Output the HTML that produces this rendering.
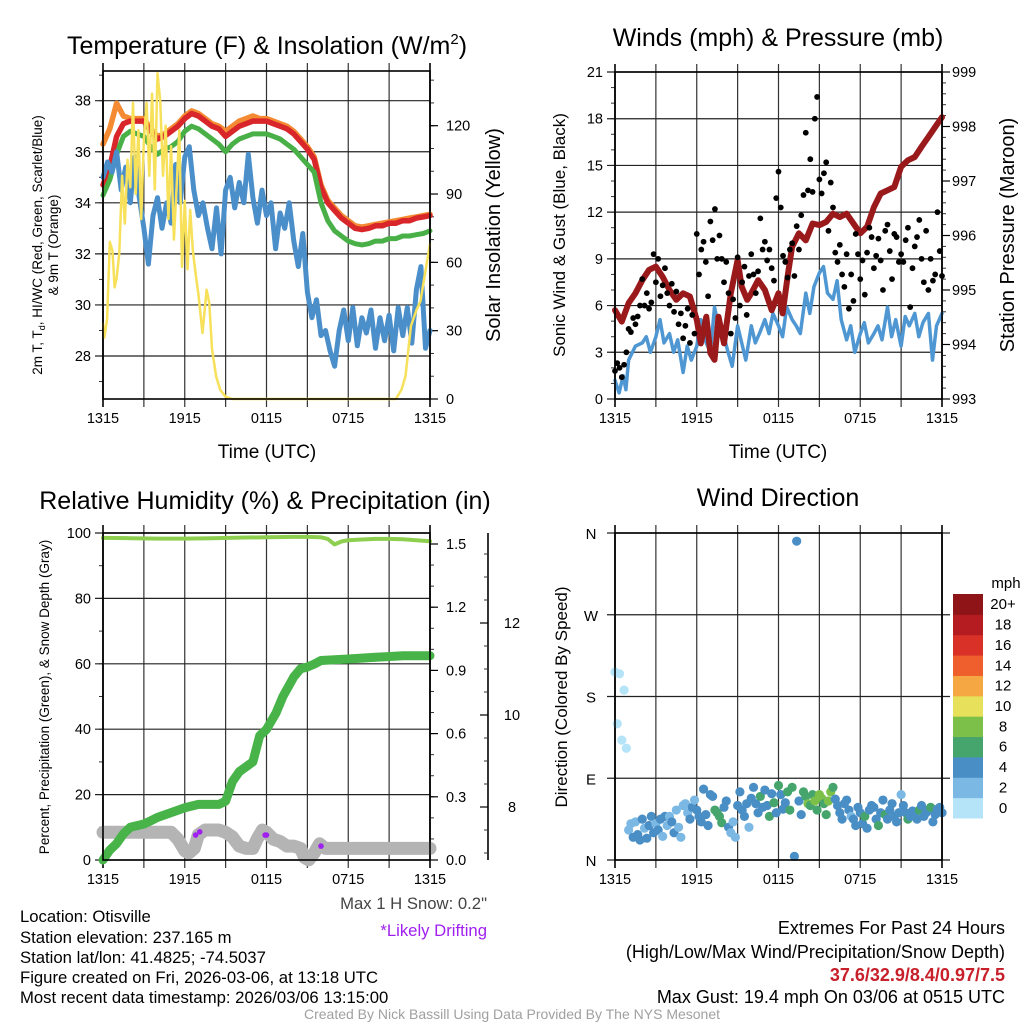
<!DOCTYPE html>
<html><head><meta charset="utf-8"><style>
html,body{margin:0;padding:0;background:#fff;}
svg{display:block;font-family:"Liberation Sans",sans-serif;}
</style></head><body>
<svg id="chart" width="1024" height="1024" viewBox="0 0 1024 1024">
<rect x="0" y="0" width="1024" height="1024" fill="#fff"/>
<text x="267" y="54" font-size="25" text-anchor="middle">Temperature (F) &amp; Insolation (W/m<tspan font-size="15" dy="-10">2</tspan><tspan dy="10">)</tspan></text>
<text x="778" y="46" font-size="25" text-anchor="middle">Winds (mph) &amp; Pressure (mb)</text>
<text x="265" y="509" font-size="25" text-anchor="middle">Relative Humidity (%) &amp; Precipitation (in)</text>
<text x="778" y="506" font-size="25" text-anchor="middle">Wind Direction</text>

<text transform="translate(42,245) rotate(-90)" font-size="13.5" text-anchor="middle">2m T, T<tspan font-size="9" dy="3">d</tspan><tspan dy="-3">, HI/WC (Red, Green, Scarlet/Blue)</tspan></text>
<text transform="translate(58,245) rotate(-90)" font-size="13.5" text-anchor="middle">&amp; 9m T (Orange)</text>
<text transform="translate(500,235) rotate(-90)" font-size="20" text-anchor="middle">Solar Insolation (Yellow)</text>
<text transform="translate(565,235) rotate(-90)" font-size="17" text-anchor="middle">Sonic Wind &amp; Gust (Blue, Black)</text>
<text transform="translate(1014,235) rotate(-90)" font-size="20" text-anchor="middle">Station Pressure (Maroon)</text>
<text transform="translate(49,697) rotate(-90)" font-size="13.5" text-anchor="middle">Percent, Precipitation (Green), &amp; Snow Depth (Gray)</text>
<text transform="translate(567,697) rotate(-90)" font-size="17" text-anchor="middle">Direction (Colored By Speed)</text>
<text x="267" y="458" font-size="19" text-anchor="middle">Time (UTC)</text>
<text x="778" y="458" font-size="19" text-anchor="middle">Time (UTC)</text>

<g font-family="'Liberation Sans',sans-serif" font-size="16.7">
<text x="20" y="922">Location: Otisville</text>
<text x="20" y="943">Station elevation: 237.165 m</text>
<text x="20" y="963">Station lat/lon: 41.4825; -74.5037</text>
<text x="20" y="983">Figure created on Fri, 2026-03-06, at 13:18 UTC</text>
<text x="20" y="1003">Most recent data timestamp: 2026/03/06 13:15:00</text>
<text x="487" y="909" text-anchor="end" fill="#444">Max 1 H Snow: 0.2"</text>
<text x="487" y="936" text-anchor="end" fill="#a020f0">*Likely Drifting</text>
<g font-size="18">
<text x="1005" y="934" text-anchor="end">Extremes For Past 24 Hours</text>
<text x="1005" y="958" text-anchor="end">(High/Low/Max Wind/Precipitation/Snow Depth)</text>
<text x="1005" y="981" text-anchor="end" fill="#c8202a" font-weight="bold">37.6/32.9/8.4/0.97/7.5</text>
<text x="1005" y="1003" text-anchor="end">Max Gust: 19.4 mph On 03/06 at 0515 UTC</text>
</g>
<text x="512" y="1019" text-anchor="middle" fill="#a0a0a0" font-size="14">Created By Nick Bassill Using Data Provided By The NYS Mesonet</text>
</g>
</svg>
<script>
// ---------- DATA ----------
const xTickLabels = ["1315","1915","0115","0715","1315"];
const tempRed = [34.7,35.4,36.6,37.1,37.2,37.2,37.2,36.8,36.5,36.6, 36.8,37.0,37.3,37.5,37.4,37.2,37.0,36.9,36.6,36.8, 37.0,37.1,37.2,37.2,37.2,37.1,37.0,36.9,36.7,36.4, 36.1,35.7,34.6,34.0,33.7,33.4,33.2,33.0,32.95,33.0, 33.1,33.1,33.2,33.2,33.3,33.3,33.4,33.45,33.5];
const temp9m = [36.3,36.9,37.9,37.4,37.3,37.3,37.3,36.9,36.6,36.7, 36.9,37.1,37.4,37.6,37.5,37.3,37.1,37.0,36.8,37.0, 37.2,37.3,37.4,37.3,37.3,37.2,37.1,37.0,36.8,36.5, 36.2,35.8,34.7,34.1,33.8,33.5,33.3,33.1,33.05,33.1, 33.15,33.2,33.25,33.3,33.35,33.4,33.45,33.5,33.55];
const tempHI = [34.3,34.9,35.9,36.6,36.8,36.7,36.6,36.2,35.9,36.1, 36.2,36.4,36.8,37.0,36.9,36.7,36.5,36.3,36.0,36.3, 36.5,36.6,36.7,36.7,36.7,36.6,36.5,36.3,36.1,35.8, 35.5,35.2,34.0,33.3,32.9,32.7,32.5,32.4,32.35,32.4, 32.5,32.5,32.6,32.6,32.7,32.7,32.75,32.8,32.9];
const dewpoint = [35.0,35.6,35.2,36.0,34.5,35.4,34.0,35.8,34.2,33.0,31.6,33.5,34.2,33.0,34.0,33.2,35.5,34.0,35.8,36.2,34.5,33.5,34.0,33.0,32.2,33.8,32.0,34.5,35.0,33.8,34.8,34.0,35.9,34.2,33.2,34.5,33.5,34.0,32.2,33.6,33.0,34.0,32.5,31.5,32.8,30.5,29.5,30.2,28.8,29.0,28.2,27.6,29.0,29.8,28.6,29.9,28.4,29.5,28.9,29.8,28.3,29.5,28.6,29.6,28.2,29.9,28.8,29.9,28.5,30.6,31.5,28.3,29.0];
const solarTimes = [0,0.1,0.3,0.5,0.7,0.85,1,1.2,1.4,1.6,1.8,2,2.2,2.4,2.6,2.8,3,3.2,3.4,3.6,3.8,4,4.2,4.4,4.6,4.8,5,5.2,5.4,5.6,5.8,6,6.2,6.4,6.6,6.8,7,7.3,7.6,7.8,8,8.3,8.6,9,9.5,21.5,21.9,22.2,22.6,23,23.3,23.6,24];
const solarValues = [33,27,35,69,65,49,53,64,98,77,105,93,130,90,118,79,114,130,98,134,92,143,131,98,120,79,111,70,93,118,58,87,57,83,65,55,46,29,48,42,22,10,4,1,0,0,4,10,32,39,43,54,68];
const pressTimes = [0,0.5,1,1.5,2,2.5,3,3.5,4,4.5,5,5.5,6,6.3,6.7,7,7.3,7.6,8,8.5,9,9.3,9.7,10,10.5,11,11.5,12,12.3,12.7,13,13.5,14,14.5,15,15.5,16,16.5,17,17.5,18,18.5,19,19.5,20,20.5,21,21.5,22,22.5,23,23.5,24];
const pressValues = [994.63,994.42,994.76,994.94,995.18,995.37,995.43,995.24,995.0,994.82,994.94,994.88,994.45,994.02,994.51,993.84,993.72,994.51,994.02,994.94,995.55,995.06,994.82,994.94,995.18,995.0,994.63,994.94,994.57,995.3,995.79,996.04,995.91,996.22,996.19,996.25,996.4,996.34,996.4,996.22,996.04,996.16,996.52,996.77,996.83,996.89,997.26,997.38,997.44,997.63,997.81,997.99,998.17];
const windTimes = [0,0.3,0.6,0.8,1,1.5,2,2.3,2.6,3,3.3,3.6,4,4.3,4.6,5,5.3,5.6,6,6.3,6.6,7,7.3,7.6,8,8.3,8.6,9,9.3,9.6,10,10.3,10.6,11,11.3,11.6,12,12.3,12.6,13,13.3,13.6,14,14.3,14.6,15,15.3,15.6,16,16.3,16.6,17,17.3,17.6,18,18.3,18.6,19,19.3,19.6,20,20.3,20.6,21,21.3,21.6,22,22.3,22.6,23,23.3,23.6,24];
const windValues = [1.2,0.4,1.5,0.6,2.5,3.4,3.6,4.0,3.0,4.0,5.1,3.6,4.2,3.0,3.8,1.7,3.4,2.5,3.4,5.1,3.8,3.0,5.9,4.7,4.0,3.0,2.1,4.7,3.6,2.5,4.7,3.6,4.2,5.1,4.2,5.5,4.7,4.0,5.9,5.1,4.7,4.2,6.8,5.5,7.2,8.1,8.5,6.8,6.4,7.6,5.1,3.8,4.7,3.0,4.2,4.9,3.6,4.2,4.7,3.8,5.9,4.0,5.1,3.4,5.3,4.7,5.5,4.0,4.9,5.5,2.5,4.7,5.5];
const gustValues = [1.8,2.3,2.0,1.4,2.2,3.0, 4.5,4.3,5.2,4.8,5.3,6.0, 7.7,6.0,6.8,5.8,6.2,9.3, 7.5,9.0,6.6,7.3,8.4,6.8, 6.0,7.4,5.6,6.9,4.8,5.5, 3.9,4.7,5.8,3.6,5.4,4.2, 10.6,8.0,9.6,10.1,8.8,6.6, 11.4,10.2,12.2,9.0,10.5,9.0, 7.5,8.8,6.8,4.2,6.4,5.2, 9.1,6.0,7.5,8.5,5.4,7.9, 9.3,8.0,6.8,8.2,11.6,9.6, 10.1,8.9,9.6,8.4,7.6,12.9, 14.6,12.3,9.2,8.8,7.8,9.6, 10.0,7.9,11.1,9.6,11.8,13.1, 17.1,13.4,15.4,13.3,18.0,19.4, 14.1,13.2,14.5,15.2,10.8,13.9, 12.3,9.4,8.8,9.9,8.0,7.2, 9.3,5.8,8.0,6.3,10.6,9.3, 7.7,8.9,6.7,9.4,11.0,10.4, 8.4,9.2,10.3,8.9,7.0,10.8, 11.2,9.5,7.7,10.6,10.4,8.8, 9.3,8.8,10.2,11.0,5.9,8.4, 9.8,10.4,11.5,9.0,7.5,10.8, 7.0,9.0,7.6,8.0,12.0,9.5, 7.9];
const rhTimes = [0,2,4,6,8,10,12,14,15,16,16.5,17,17.5,18,19,20,21,22,23,24];
const rhValues = [98.5,98.4,98.3,98.3,98.4,98.6,98.7,98.8,98.8,98.7,98.2,96.5,97.4,97.8,98.0,98.2,98.2,98.1,97.8,97.5];
const precipTimes = [0,0.5,1,1.5,2,3,3.5,4,5,6,7,8,8.5,9,9.5,10,11,11.5,12,12.7,13.2,14,14.5,15,15.5,16,18,20,22,24];
const precipValues = [0,0.047,0.078,0.124,0.155,0.171,0.186,0.202,0.225,0.248,0.264,0.264,0.264,0.279,0.372,0.419,0.466,0.59,0.62,0.698,0.776,0.869,0.908,0.916,0.93,0.947,0.954,0.962,0.97,0.97];
const snowTimes = [0,5,5.5,6,6.3,6.7,7,7.5,8.5,9,9.5,10,10.5,11,11.3,11.7,12,12.5,13,13.5,14,14.5,14.8,15.1,15.5,15.9,16.3,17,24];
const snowValues = [7.45,7.45,7.3,7.05,7.0,7.1,7.4,7.5,7.5,7.45,7.35,7.15,7.1,7.1,7.3,7.5,7.45,7.3,7.25,7.15,7.15,7.1,6.9,6.85,7.0,7.2,7.1,7.1,7.1];
const driftTimes = [6.8,7.1,11.9,12.0,16.0];
const driftValues = [7.39,7.46,7.39,7.39,7.15];
const dirValues = [207,150,205,132,187,123, 33,40,25,42,28,22, 45,35,24,38,48,30, 40,33,45,26,48,38, 48,42,30,55,36,25, 60,62,52,45,58,66, 55,48,42,78,50,38, 72,70,55,52,48,41, 58,65,36,30,42,25, 60,75,55,48,62,36, 68,80,62,52,70,58, 77,60,48,73,63,52, 82,72,56,63,75,55, 80,4,351,65,50,75, 70,62,60,72,65,55, 72,68,62,50,65,75, 80,67,60,52,45,62, 66,55,48,45,38,58, 52,40,48,35,55,60, 58,45,38,52,66,50, 45,55,62,48,42,52, 72,60,52,45,48,54, 50,45,55,60,48,52, 55,58,42,50,56,58, 52];
const dirSpeeds = [0.5,0.8,0.5,0.8,0.6,0.9, 2.2,2.5,3,2.1,3.5,3.2, 3.5,2,3.6,4,3.4,3.8, 2.4,3,4.5,2.5,3.8,2.2, 2.6,3.1,3.8,2.9,2,2.5, 1.5,2.2,2.8,3.5,3.4,2.6, 3.5,3.8,3.6,4.2,3.9,3.4, 4.5,3.5,6.2,6.1,6.5,6.3, 4.5,3.8,3.2,2.5,2.4,1.8, 3.5,4.1,4.7,3.3,3.9,2.2, 3.5,4.6,4.1,3.9,5.0,4.2, 4.8,4.5,5.2,4.4,6.0,4.8, 6.5,4.8,4.3,4.5,6.1,5.0, 5.2,4.5,4.9,4.7,3.9,5.0, 6.3,7.5,6.5,5.8,7.2,6.8, 7.5,7.8,6.7,6.4,7.6,7.0, 6.8,4.5,4.2,3.8,4.6,4.0, 3.6,4.2,2.5,4.0,3.7,4.4, 4.1,3.9,6.2,4.1,4.4,4.0, 4.2,3.8,5.5,4.5,4.2,6.1, 4.3,3.9,4.0,3.6,4.2,4.5, 2.5,3.8,4.6,6.2,4.4,3.9, 4.5,4.3,6.0,4.6,3.8,4.4, 4.2,6.1,4.3,3.9,4.4,4.6, 4.0];
const speedLabels = ["0","2","4","6","8","10","12","14","16","18","20+"];
const speedColors = ["#b5e4f8","#7bb9e4","#4a8ec6","#46a46d","#7cc04a","#e6e05a","#f4a743","#ee5f2d","#d93127","#b51c22","#8e1418"];
const dirLabels = ["N","E","S","W","N"];

// ---------- HELPERS ----------
const NS='http://www.w3.org/2000/svg';
const svg=document.getElementById('chart');
function mk(tag,parent){const e=document.createElementNS(NS,tag);(parent||svg).appendChild(e);return e;}
function lin(d0,d1,r0,r1){return v=>r0+(v-d0)*(r1-r0)/(d1-d0);}
function pathD(ts,vs,xs,ys){return vs.map((v,i)=>(i?'L':'M')+xs(ts[i]).toFixed(1)+','+ys(v).toFixed(1)).join('');}
function line(g,d,color,w){const p=mk('path',g);p.setAttribute('d',d);p.setAttribute('fill','none');p.setAttribute('stroke',color);p.setAttribute('stroke-width',w);p.setAttribute('stroke-linejoin','round');p.setAttribute('stroke-linecap','round');return p;}
function seg(g,x1,y1,x2,y2,w,c){const l=mk('line',g);l.setAttribute('x1',x1);l.setAttribute('y1',y1);l.setAttribute('x2',x2);l.setAttribute('y2',y2);l.setAttribute('stroke',c||'#000');l.setAttribute('stroke-width',w||1);return l;}
function txt(g,x,y,s,anchor,size){const t=mk('text',g);t.setAttribute('x',x);t.setAttribute('y',y);t.setAttribute('font-size',size||14.5);t.setAttribute('text-anchor',anchor||'middle');t.textContent=s;return t;}
function idx(n,step){return Array.from({length:n},(_,i)=>i*step);}

function frame(g,L,R,T,B,name){
  const xs=lin(0,24,L,R);
  for(let h=0;h<=24;h+=3){seg(g,xs(h),T-8,xs(h),B+8,(h%24===0)?1.6:1.2,(h%24===0)?'#000':'#333');}
  for(let i=0;i<xTickLabels.length;i++){const t=txt(g,xs(i*6),B+24,xTickLabels[i]);
    
    }
  return xs;
}
function box(g,L,R,T,B){const r=mk('rect',g);r.setAttribute('x',L);r.setAttribute('y',T);r.setAttribute('width',R-L);r.setAttribute('height',B-T);r.setAttribute('fill','none');r.setAttribute('stroke','#000');r.setAttribute('stroke-width',1.6);}
function leftAxis(g,ys,L,R,min,max,major,minor,fmt){
  for(let v=min;v<=max+1e-9;v+=minor){seg(g,L-4,ys(v),L,ys(v),1,'#333');}
  for(let v=Math.ceil(min/major-1e-9)*major;v<=max+1e-9;v+=major){seg(g,L-8,ys(v),R,ys(v),1.2,'#222');
    const t=txt(g,L-12,ys(v)+5,fmt(v),'end');
    
    }
}
function rightAxis(g,ys,R,min,max,major,minor,fmt,labelX){
  for(let v=min;v<=max+1e-9;v+=minor){seg(g,R,ys(v),R+4,ys(v),1,'#333');}
  for(let v=min;v<=max+1e-9;v+=major){seg(g,R,ys(v),R+8,ys(v),1.2,'#000');
    const t=txt(g,labelX,ys(v)+5,fmt(v),'start');
    
    }
}

// ---------- PANEL 1 ----------
(function(){
  const L=103,R=430,T=71,B=399;
  const g=mk('g');  
  const xs=frame(g,L,R,T,B,'temperature');
  const yT=lin(28,38,356,100.7), yS=lin(0,120,399,125.7);
  leftAxis(g,yT,L,R,27,39,2,1,v=>String(v));
  rightAxis(g,yS,R,0,140,30,10,v=>String(v),446);
  const half=idx(tempRed.length,0.5);
  const p1=line(g,pathD(half,temp9m,xs,yT),'#f48a32',5.5);
   
  const p2=line(g,pathD(half,tempRed,xs,yT),'#d9262a',5.5);
   
  const p3=line(g,pathD(half,tempHI,xs,yT),'#49b048',5);
   
  const p4=line(g,pathD(idx(dewpoint.length,1/3),dewpoint,xs,yT),'#4b8fca',5);
   
  const p5=line(g,pathD(solarTimes,solarValues,xs,yS),'#f7e05a',2.5);
   
  box(g,L,R,T,B);
})();

// ---------- PANEL 2 ----------
(function(){
  const L=615,R=942,T=72,B=399;
  const g=mk('g');  
  const xs=frame(g,L,R,T,B,'wind');
  const yW=lin(0,21,B,T), yP=lin(993,999,B,T);
  leftAxis(g,yW,L,R,0,21,3,1,v=>String(v));
  rightAxis(g,yP,R,993,999,1,0.2,v=>String(Math.round(v)),952);
  const p1=line(g,pathD(windTimes,windValues,xs,yW),'#4f97d3',3.5);
   
  const p2=line(g,pathD(pressTimes,pressValues,xs,yP),'#9a1a1c',6);
   
  gustValues.forEach((v,i)=>{const c=mk('circle',g);c.setAttribute('cx',xs(i/6));c.setAttribute('cy',yW(v));c.setAttribute('r',2.9);c.setAttribute('fill','#000');
    
    });
  box(g,L,R,T,B);
})();

// ---------- PANEL 3 ----------
(function(){
  const L=103,R=430,T=533,B=860;
  const g=mk('g');  
  const xs=frame(g,L,R,T,B,'humidity');
  const yR=lin(0,100,B,T), yPr=lin(0,1.5,B,544), ySn=lin(8,12,807,623);
  leftAxis(g,yR,L,R,0,100,20,10,v=>String(v));
  rightAxis(g,yPr,R,0,1.5,0.3,0.1,v=>v.toFixed(1),446);
  const ax=488;
  seg(g,ax,T,ax,B,1.6,'#000');
  for(let v=7;v<=14+1e-9;v+=0.5){const y=ySn(v); if(y<T||y>B)continue; seg(g,ax-4,y,ax,y,1,'#333');}
  [8,10,12].forEach(v=>{seg(g,ax-8,ySn(v),ax,ySn(v),1.2,'#000');const t=txt(g,512,ySn(v)+5,String(v),'middle');
    
    });
  const p1=line(g,pathD(snowTimes,snowValues,xs,ySn),'#b4b4b4',13);
   
  driftTimes.forEach((t,i)=>{const c=mk('circle',g);c.setAttribute('cx',xs(t));c.setAttribute('cy',ySn(driftValues[i]));c.setAttribute('r',2.8);c.setAttribute('fill','#a020f0');
    
    });
  const p2=line(g,pathD(precipTimes,precipValues,xs,yPr),'#47b348',9);
   
  const p3=line(g,pathD(rhTimes,rhValues,xs,yR),'#8ecf50',4);
   
  box(g,L,R,T,B);
})();

// ---------- PANEL 4 ----------
(function(){
  const L=615,R=942,T=533,B=860;
  const g=mk('g');  
  const xs=frame(g,L,R,T,B,'direction');
  const yD=lin(0,360,B,T);
  dirLabels.forEach((s,i)=>{const y=yD(i*90);seg(g,L-8,y,R+8,y,1.2,'#222');const t=txt(g,591,y+6,s,'middle',15);
    
    });
  dirValues.forEach((d,i)=>{const c=mk('circle',g);c.setAttribute('cx',xs(i/6));c.setAttribute('cy',yD(d));c.setAttribute('r',4.6);
    c.setAttribute('fill',speedColors[Math.min(10,Math.round(dirSpeeds[i]/2))]);
    
    });
  box(g,L,R,T,B);
  const cb=mk('g');  
  const top=594,bot=818,h=(bot-top)/speedColors.length;
  speedColors.forEach((c,i)=>{const r=mk('rect',cb);r.setAttribute('x',953);r.setAttribute('y',bot-(i+1)*h);r.setAttribute('width',30);r.setAttribute('height',h+0.5);r.setAttribute('fill',c);
    
    
    const t=txt(cb,1003,bot-(i+0.5)*h+5,speedLabels[i],'middle',15);
    
    });
  const u=txt(cb,1006,588,'mph','middle',15);
  
  
})();
</script>
</body></html>
